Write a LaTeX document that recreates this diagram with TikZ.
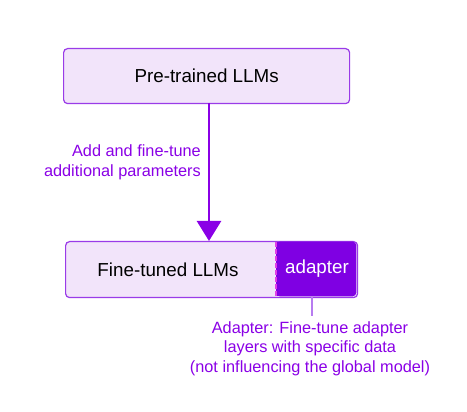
\documentclass[tikz,border=0pt]{standalone}
\usepackage{fontspec}
\setmainfont{Liberation Sans}
\usetikzlibrary{arrows.meta}
\definecolor{boxfill}{HTML}{F2E4FA}
\definecolor{boxline}{HTML}{9A3BE8}
\definecolor{purp}{HTML}{8A00E6}
\definecolor{adfill}{HTML}{7F00E3}
\definecolor{dashc}{HTML}{E040E8}
\definecolor{thinl}{HTML}{B77CF0}
\tikzset{
  llmbox/.style={draw=boxline, line width=1.2pt, fill=boxfill, rounded corners=4pt},
  lbl/.style={text=purp, font=\fontsize{16.3}{19.7}\selectfont, inner sep=0pt},
}
\begin{document}
\begin{tikzpicture}[x=1pt,y=-1pt]
\useasboundingbox (0,0) rectangle (467,412);
% top box
\node[llmbox, minimum width=286pt, minimum height=55pt, anchor=north west, inner sep=0pt] (pre) at (63,48) {};
\node[font=\fontsize{18.8}{22}\selectfont] (pret) at (pre.center) {Pre-trained LLMs};
% bottom box
\node[llmbox, minimum width=292pt, minimum height=56pt, anchor=north west, inner sep=0pt] (fine) at (65,241) {};
\fill[adfill, rounded corners=4pt] (276,241.6) -- (356.4,241.6) -- (356.4,296.4) -- (276,296.4) -- cycle;
\fill[adfill] (276,241.6) rectangle (290,296.4);
\coordinate (dtop) at (275.5,242);
\coordinate (dbot) at (275.5,296);
\draw[dashc, line width=2pt, dash pattern=on 5pt off 2pt] (dtop) -- (dbot);
\node[font=\fontsize{18.8}{22}\selectfont] (finet) at (168,270) {Fine-tuned LLMs};
\node[font=\fontsize{18.8}{22}\selectfont, text=white] (adt) at (317,269) {adapter};
% arrow
\coordinate (atip) at (209,241);
\draw[purp, line width=2.5pt, -{Triangle[width=24pt,length=20pt]}] (209,103) -- (atip);
\node[lbl, align=right, anchor=east] (addl) at (201,162) {Add and fine-tune\\additional parameters};
% annotation
\coordinate (abot) at (312,297);
\coordinate (anote) at (312,316);
\draw[thinl, line width=1.5pt] (abot) -- (anote);
\node[lbl, align=center, anchor=north] (note) at (310,321) {Adapter: Fine-tune adapter\\layers with specific data\\(not influencing the global model)};
\end{tikzpicture}
\end{document}
